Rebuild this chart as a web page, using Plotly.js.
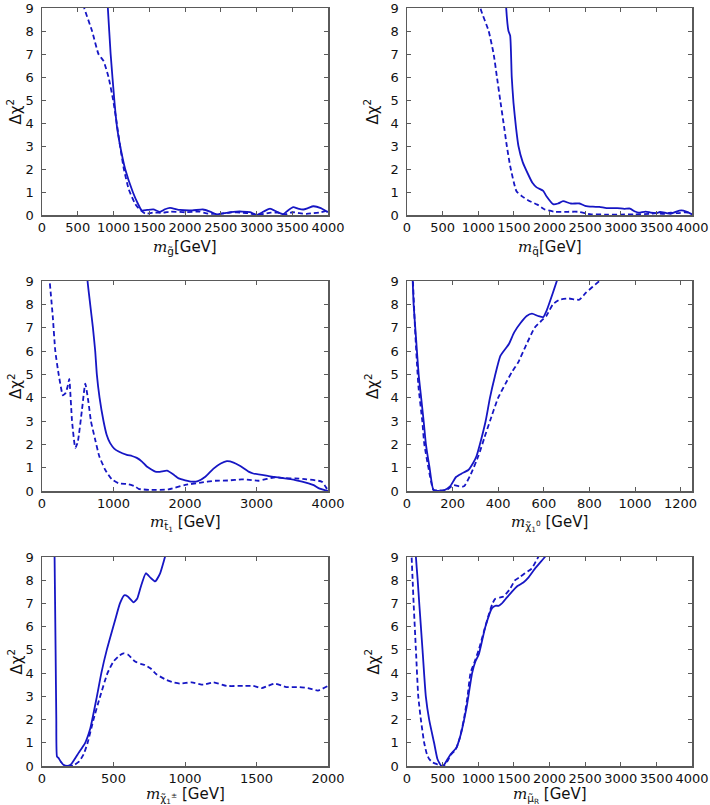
<!DOCTYPE html>
<html>
<head>
<meta charset="utf-8">
<script src="https://cdn.plot.ly/plotly-3.0.1.min.js"></script>
<style>html,body{margin:0;padding:0;background:#fff;}#chart{width:710px;height:805px;}</style>
</head>
<body>
<div id="chart"></div>
<script>
// Panel 1: gluino
const gluinoSolidX = [900, 921, 960, 1014, 1050, 1093, 1163, 1270, 1340, 1395, 1470, 1557, 1650, 1720, 1790, 1930, 2100, 2250, 2350, 2443, 2550, 2676, 2800, 2909, 3002, 3100, 3189, 3280, 3375, 3440, 3515, 3580, 3655, 3720, 3795, 3900, 3982, 4000];
const gluinoSolidY = [10, 9, 7, 4.9, 3.8, 3, 2, 1, 0.5, 0.2, 0.22, 0.24, 0.14, 0.25, 0.31, 0.22, 0.2, 0.24, 0.15, 0.03, 0.08, 0.14, 0.15, 0.12, 0.0, 0.15, 0.28, 0.15, 0.03, 0.2, 0.34, 0.28, 0.24, 0.3, 0.38, 0.3, 0.15, 0.14];
const gluinoDashX = [560, 591, 700, 790, 860, 930, 995, 1045, 1092, 1145, 1215, 1300, 1349, 1450, 1550, 1700, 1800, 2000, 2200, 2300, 2400, 2500, 2650, 2800, 2900, 3000, 3100, 3200, 3300, 3400, 3500, 3600, 3700, 3800, 3900, 4000];
const gluinoDashY = [9.5, 9, 8, 7, 6.7, 6, 5, 4, 3, 2, 1.1, 0.5, 0.3, 0.05, 0.1, 0.1, 0.15, 0.12, 0.15, 0.07, 0.05, 0.05, 0.12, 0.1, 0.08, 0.0, 0.05, 0.1, 0.1, 0.02, 0.12, 0.08, 0.05, 0.08, 0.12, 0.2];

// Panel 2: squark
const squarkSolidX = [1380, 1392, 1424, 1448, 1470, 1494, 1530, 1564, 1624, 1703, 1760, 1819, 1912, 1960, 2051, 2120, 2190, 2300, 2422, 2500, 2608, 2700, 2800, 2950, 3050, 3130, 3200, 3250, 3350, 3420, 3500, 3550, 3620, 3700, 3780, 3850, 3920, 4000];
const squarkSolidY = [10, 9, 8, 7.8, 6, 4.9, 3.8, 3, 2.3, 1.75, 1.4, 1.2, 1.05, 0.8, 0.47, 0.5, 0.6, 0.5, 0.5, 0.4, 0.36, 0.35, 0.3, 0.3, 0.27, 0.28, 0.15, 0.1, 0.15, 0.1, 0.08, 0.13, 0.1, 0.05, 0.15, 0.2, 0.15, 0.03];
const squarkDashX = [1000, 1030, 1146, 1216, 1262, 1308, 1355, 1401, 1450, 1537, 1620, 1724, 1830, 1933, 2072, 2250, 2400, 2500, 2583, 2800, 3000, 3200, 3400, 3500, 3600, 3700, 3800, 3900, 3950, 4000];
const squarkDashY = [10, 9, 8, 7, 6, 5, 4, 3, 2.1, 1.03, 0.8, 0.6, 0.45, 0.24, 0.14, 0.14, 0.14, 0.08, 0.03, 0.02, 0.02, 0.03, 0.05, 0.08, 0.05, 0.1, 0.08, 0.12, 0.1, 0.0];

// Panel 3: stop
const stopSolidX = [620, 637, 674, 712, 744, 767, 805, 860, 905, 953, 1010, 1072, 1186, 1258, 1326, 1398, 1465, 1584, 1650, 1748, 1850, 1911, 2097, 2180, 2284, 2395, 2500, 2586, 2680, 2767, 2889, 2953, 3169, 3300, 3542, 3728, 3800, 3884, 4000];
const stopSolidY = [10, 9, 8, 7, 6, 5, 4, 3, 2.4, 2.05, 1.82, 1.69, 1.55, 1.5, 1.42, 1.26, 1.05, 0.83, 0.82, 0.87, 0.68, 0.54, 0.4, 0.42, 0.61, 0.95, 1.18, 1.28, 1.22, 1.08, 0.83, 0.75, 0.64, 0.58, 0.47, 0.33, 0.25, 0.1, 0];
const stopDashX = [110, 150, 186, 233, 293, 330, 360, 381, 420, 466, 500, 560, 605, 650, 684, 744, 800, 886, 977, 1072, 1212, 1300, 1352, 1500, 1771, 2004, 2200, 2423, 2600, 2796, 2900, 3029, 3262, 3400, 3542, 3700, 3914, 3984, 4000];
const stopDashY = [8.9, 7.5, 6, 5, 4.1, 4.2, 4.5, 4.8, 3.0, 1.85, 2.1, 3.5, 4.6, 3.8, 3, 2.2, 1.5, 0.9, 0.5, 0.33, 0.29, 0.2, 0.09, 0.05, 0.07, 0.26, 0.35, 0.44, 0.45, 0.5, 0.48, 0.44, 0.59, 0.55, 0.54, 0.5, 0.4, 0.1, 0.05];

// Panel 4: neutralino
const neutSolidX = [20, 25, 29, 40, 51, 62, 73, 83, 99, 116, 140, 160, 189, 215, 240, 269, 290, 305, 325, 345, 364, 385, 410, 447, 470, 498, 525, 548, 575, 597, 611, 640, 657, 670];
const neutSolidY = [10, 9, 8, 6.5, 5, 4, 3, 2, 1, 0.05, 0, 0.02, 0.2, 0.6, 0.75, 0.9, 1.2, 1.5, 2.2, 3, 4, 4.9, 5.8, 6.3, 6.8, 7.2, 7.5, 7.6, 7.5, 7.45, 7.7, 8.5, 9, 9.5];
const neutDashX = [20, 26, 35, 50, 67, 76, 94, 116, 140, 175, 204, 230, 250, 279, 313, 340, 364, 400, 432, 460, 487, 520, 560, 590, 611, 640, 669, 710, 756, 785, 844, 870];
const neutDashY = [10, 9, 7, 4.5, 3, 2, 1, 0.05, 0.02, 0.05, 0.25, 0.2, 0.2, 0.7, 1.5, 2.3, 3, 4, 4.6, 5.1, 5.5, 6.2, 7, 7.3, 7.5, 8.0, 8.2, 8.25, 8.2, 8.5, 9, 9.2];

// Panel 5: chargino
const charSolidX = [86, 88, 95, 100, 105, 115, 130, 150, 175, 200, 249, 302, 337, 384, 415, 453, 512, 545, 575, 600, 640, 665, 690, 726, 760, 791, 826, 860, 880];
const charSolidY = [10, 9, 5, 2, 0.4, 0.35, 0.2, 0.05, 0, 0.05, 0.5, 1.0, 1.6, 3.0, 4, 5, 6.3, 7.0, 7.35, 7.3, 7.05, 7.2, 7.7, 8.3, 8.1, 7.95, 8.3, 9, 9.4];
const charDashX = [180, 219, 260, 291, 319, 360, 407, 458, 500, 540, 570, 600, 651, 690, 720, 760, 800, 872, 920, 965, 1047, 1128, 1198, 1291, 1407, 1477, 1535, 1580, 1628, 1709, 1802, 1860, 1930, 2000];
const charDashY = [0, 0.02, 0.2, 0.5, 1.0, 2.0, 3.0, 4.0, 4.5, 4.75, 4.85, 4.8, 4.5, 4.4, 4.35, 4.2, 3.95, 3.7, 3.6, 3.55, 3.6, 3.5, 3.6, 3.45, 3.45, 3.45, 3.35, 3.45, 3.55, 3.4, 3.4, 3.35, 3.25, 3.45];

// Panel 6: smuon
const smuSolidX = [110, 125, 150, 172, 195, 218, 264, 311, 380, 427, 460, 483, 520, 570, 612, 696, 730, 766, 835, 914, 960, 1007, 1100, 1193, 1240, 1285, 1332, 1400, 1471, 1550, 1633, 1700, 1796, 1935, 2000];
const smuSolidY = [10, 9, 8, 7, 6, 5, 3, 2, 1, 0.3, 0.1, 0, 0.05, 0.3, 0.5, 0.8, 1.1, 1.5, 2.5, 4, 4.5, 4.8, 6, 6.8, 6.9, 6.9, 7.0, 7.25, 7.5, 7.75, 7.9, 8.1, 8.5, 9, 9.3];
const smuDashX = [55, 65, 79, 93, 125, 158, 195, 241, 280, 311, 360, 404, 450, 497, 530, 566, 620, 682, 740, 798, 850, 891, 950, 1007, 1080, 1146, 1200, 1239, 1300, 1355, 1440, 1517, 1590, 1656, 1750, 1842, 1900];
const smuDashY = [10, 9, 8, 7, 5, 3, 2, 1, 0.5, 0.3, 0.15, 0.1, 0.03, 0, 0.05, 0.2, 0.5, 0.7, 1.2, 2, 3, 4, 4.5, 5, 5.8, 6.5, 7.0, 7.2, 7.25, 7.3, 7.6, 8, 8.15, 8.3, 8.5, 9, 9.3];

const xRanges = [[0, 4000], [0, 4000], [0, 4000], [0, 1250], [0, 2000], [0, 4000]];
const xTickVals = [
  [0, 500, 1000, 1500, 2000, 2500, 3000, 3500, 4000],
  [0, 500, 1000, 1500, 2000, 2500, 3000, 3500, 4000],
  [0, 1000, 2000, 3000, 4000],
  [0, 200, 400, 600, 800, 1000, 1200],
  [0, 500, 1000, 1500, 2000],
  [0, 500, 1000, 1500, 2000, 2500, 3000, 3500, 4000]
];
const yTickVals = [0, 1, 2, 3, 4, 5, 6, 7, 8, 9];
const mathM = "<span style='font-family:DejaVu Serif;font-style:italic'>m</span>";
const xTitles = [
  mathM + "<sub>g̃</sub>[GeV]",
  mathM + "<sub>q̃</sub>[GeV]",
  mathM + "<sub>t̃<sub>1</sub></sub> [GeV]",
  mathM + "<sub>χ̃<sub>1</sub><sup>0</sup></sub> [GeV]",
  mathM + "<sub>χ̃<sub>1</sub><sup>±</sup></sub> [GeV]",
  mathM + "<sub>μ̃<sub>R</sub></sub> [GeV]"
];
const yTitle = "Δχ<sup>2</sup>";

const solidX = [gluinoSolidX, squarkSolidX, stopSolidX, neutSolidX, charSolidX, smuSolidX];
const solidY = [gluinoSolidY, squarkSolidY, stopSolidY, neutSolidY, charSolidY, smuSolidY];
const dashX = [gluinoDashX, squarkDashX, stopDashX, neutDashX, charDashX, smuDashX];
const dashY = [gluinoDashY, squarkDashY, stopDashY, neutDashY, charDashY, smuDashY];

const W = 710, H = 805;
const colsPx = [[42, 328], [407, 692]];
const rowsPx = [[8, 215], [281, 491], [557, 766]];
const xTitleY = [247, 523, 795];
const yTitleX = [15, 372];
const lineColor = "#1616c4";
const frameColor = "#5a5a5a";

const traces = [];
const layout = {
  width: W, height: H,
  margin: {l: 0, r: 0, t: 0, b: 0},
  paper_bgcolor: "#ffffff", plot_bgcolor: "#ffffff",
  showlegend: false,
  font: {family: "DejaVu Sans", size: 13, color: "#111"},
  annotations: []
};

for (let i = 0; i < 6; i++) {
  const r = Math.floor(i / 2), c = i % 2;
  const suffix = i === 0 ? "" : String(i + 1);
  const xa = "x" + suffix, ya = "y" + suffix;
  traces.push({x: solidX[i], y: solidY[i], xaxis: xa, yaxis: ya, type: "scatter", mode: "lines",
    line: {color: lineColor, width: 1.8, shape: "spline", smoothing: 0.5}, hoverinfo: "skip"});
  traces.push({x: dashX[i], y: dashY[i], xaxis: xa, yaxis: ya, type: "scatter", mode: "lines",
    line: {color: lineColor, width: 1.8, dash: "5px,3px", shape: "spline", smoothing: 0.5}, hoverinfo: "skip"});
  const common = {showline: true, linecolor: frameColor, linewidth: 1.5, mirror: "ticks",
    ticks: "inside", ticklen: 4, tickcolor: frameColor, tickwidth: 1,
    ticklabeloverflow: "allow",
    showgrid: false, zeroline: false, tickfont: {family: "DejaVu Sans", size: 13, color: "#111"}};
  layout["xaxis" + suffix] = Object.assign({}, common, {
    domain: [colsPx[c][0] / W, colsPx[c][1] / W], anchor: ya,
    range: xRanges[i], tickmode: "array", tickvals: xTickVals[i], ticktext: xTickVals[i].map(String)
  });
  layout["yaxis" + suffix] = Object.assign({}, common, {
    domain: [1 - rowsPx[r][1] / H, 1 - rowsPx[r][0] / H], anchor: xa,
    range: [0, 9], tickmode: "array", tickvals: yTickVals, ticktext: yTickVals.map(String),
    ticklabelstandoff: 4
  });
  layout.annotations.push({xref: "paper", yref: "paper", x: (colsPx[c][0] + colsPx[c][1]) / 2 / W,
    y: 1 - xTitleY[r] / H, text: xTitles[i], showarrow: false, xanchor: "center", yanchor: "middle",
    font: {family: "DejaVu Sans", size: 15, color: "#111"}});
  layout.annotations.push({xref: "paper", yref: "paper", x: yTitleX[c] / W,
    y: 1 - (rowsPx[r][0] + rowsPx[r][1]) / 2 / H, text: yTitle, textangle: -90, showarrow: false,
    xanchor: "center", yanchor: "middle", font: {family: "DejaVu Sans", size: 15, color: "#111"}});
}

Plotly.newPlot("chart", traces, layout, {staticPlot: true});
</script>
</body>
</html>
